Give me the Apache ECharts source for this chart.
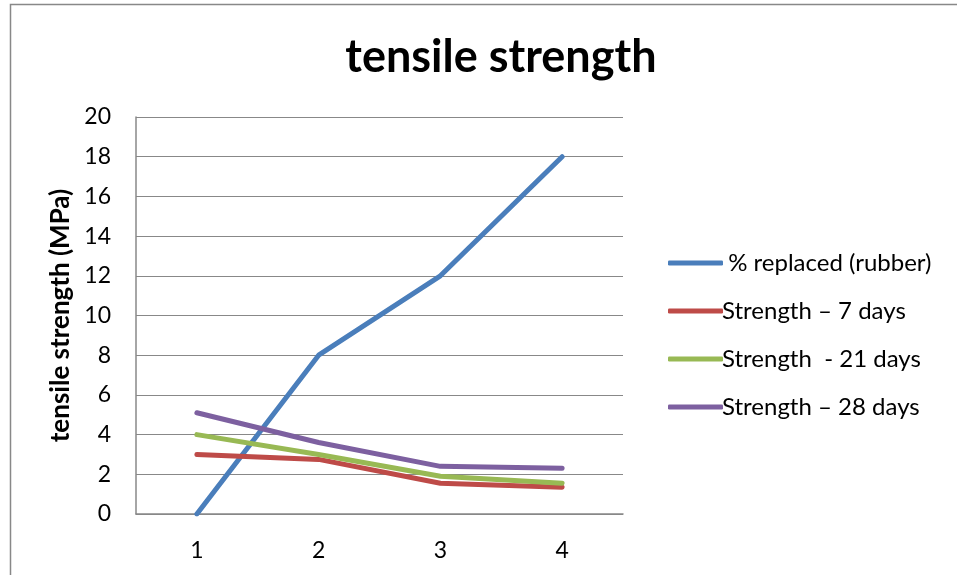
<!DOCTYPE html>
<html lang="en" style="height: 100%">
<head>
  <meta charset="utf-8">
</head>
<body style="height: 100%; margin: 0; background: #fff">
  <div id="container" style="height: 100%"></div>

  <script type="text/javascript" src="https://cdn.jsdelivr.net/npm/echarts@6/dist/echarts.min.js"></script>

  <script type="text/javascript">
    // data
    var categories = ['1', '2', '3', '4'];
    var replaced = [0, 8, 12, 18];
    var days7 = [3, 2.75, 1.55, 1.35];
    var days21 = [4, 3, 1.9, 1.55];
    var days28 = [5.1, 3.6, 2.4, 2.3];
    var seriesNames = [' % replaced (rubber)', 'Strength \u2013 7 days', 'Strength  - 21 days', 'Strength \u2013 28 days'];
    var colors = ['#4a7ebb', '#be4b48', '#98b954', '#7d60a0'];

    var font = 'Lato';

    var dom = document.getElementById('container');
    var myChart = echarts.init(dom, null, { renderer: 'canvas' });

    function line(name, data) {
      return {
        name: name,
        type: 'line',
        data: data,
        symbol: 'none',
        lineStyle: { width: 5, cap: 'round' },
        emphasis: { disabled: true }
      };
    }

    var option = {
      animation: false,
      color: colors,
      textStyle: { fontFamily: font },
      title: {
        text: 'tensile strength',
        left: 496,
        top: 30,
        textAlign: 'center',
        textStyle: { fontSize: 45, fontWeight: 'bold', color: '#000', fontFamily: font }
      },
      graphic: [{
        type: 'rect',
        shape: { x: 10.5, y: 4.5, width: 1000, height: 1000 },
        style: { fill: null, stroke: '#888', lineWidth: 1.5 },
        silent: true
      }],
      legend: {
        orient: 'vertical',
        left: 663,
        top: 246,
        itemWidth: 55,
        itemHeight: 5,
        itemGap: 24,
        icon: 'roundRect',
        textStyle: { fontSize: 24, color: '#000', padding: [0, 0, 0, -6] },
        data: seriesNames
      },
      grid: { left: 136, right: 334, top: 117, bottom: 61 },
      xAxis: {
        type: 'category',
        data: categories,
        boundaryGap: true,
        axisLine: { lineStyle: { color: '#888', width: 1.5 } },
        axisTick: { show: false },
        axisLabel: { fontSize: 23, color: '#000', margin: 25 }
      },
      yAxis: {
        type: 'value',
        min: 0,
        max: 20,
        interval: 2,
        name: 'tensile strength (MPa)',
        nameLocation: 'middle',
        nameGap: 62,
        nameTextStyle: { fontSize: 26, fontWeight: 'bold', color: '#000' },
        axisLine: { show: true, lineStyle: { color: '#888', width: 1.5 } },
        axisTick: { show: false },
        axisLabel: { fontSize: 23, color: '#000', margin: 25 },
        splitLine: { lineStyle: { color: '#888', width: 1.2 } }
      },
      series: [
        line(seriesNames[0], replaced),
        line(seriesNames[1], days7),
        line(seriesNames[2], days21),
        line(seriesNames[3], days28)
      ]
    };

    myChart.setOption(option);
    window.addEventListener('resize', myChart.resize);
  </script>
</body>
</html>
